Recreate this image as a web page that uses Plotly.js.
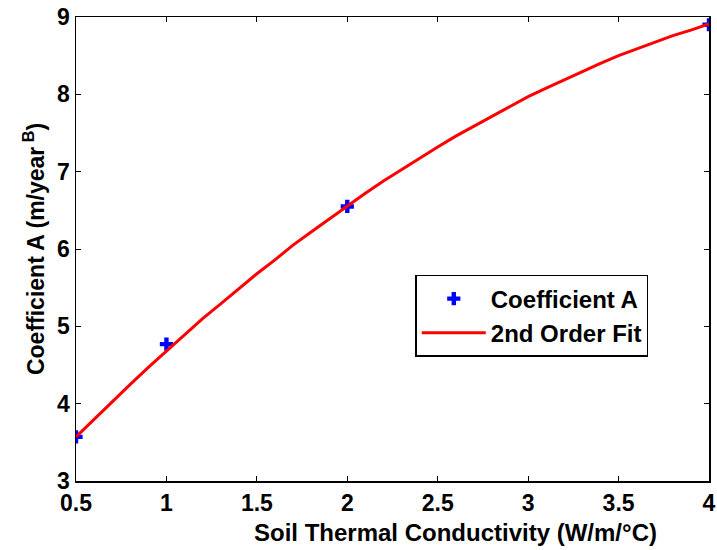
<!DOCTYPE html>
<html><head><meta charset="utf-8">
<script src="https://cdn.plot.ly/plotly-3.0.1.min.js"></script>
<style>body{margin:0;background:#fff}#c{width:717px;height:550px}</style>
</head><body><div id="c"></div>
<script>
const conductivity = [0.5, 1, 2, 4];
const coefficientA = [3.57, 4.77, 6.55, 8.90];
const fitX = [0.5,0.6,0.7,0.8,0.9,1.0,1.1,1.2,1.3,1.4,1.5,1.6,1.7,1.8,1.9,2.0,2.1,2.2,2.3,2.4,2.5,2.6,2.7,2.8,2.9,3.0,3.1,3.2,3.3,3.4,3.5,3.6,3.7,3.8,3.9,4.0];
const fitY = [3.57,3.80,4.03,4.25,4.47,4.68,4.89,5.10,5.29,5.49,5.68,5.86,6.05,6.22,6.39,6.56,6.72,6.88,7.03,7.18,7.32,7.46,7.59,7.72,7.85,7.97,8.08,8.19,8.30,8.40,8.50,8.59,8.67,8.76,8.83,8.91];
const xTickVals = [0.5,1,1.5,2,2.5,3,3.5,4];
const xTickText = ["0.5","1","1.5","2","2.5","3","3.5","4"];
const yTickVals = [3,4,5,6,7,8,9];
const xTitle = "Soil Thermal Conductivity (W/m/°C)";
const yTitle = "Coefficient A (m/year<sup> B</sup>)";

const font = {family: "Liberation Sans, Arial, sans-serif", color: "#000", weight: "bold"};
const f = s => Object.assign({}, font, {size: s});
const traces = [
  {x: conductivity, y: coefficientA, mode: "markers", name: "Coefficient A",
   marker: {symbol: "cross", size: 11, color: "#0000ff"}},
  {x: fitX, y: fitY, mode: "lines", name: "2nd Order Fit",
   line: {color: "#ff0000", width: 3}}
];
const layout = {
  width: 717, height: 550,
  margin: {l: 76, r: 8, t: 17, b: 69},
  paper_bgcolor: "#fff", plot_bgcolor: "#fff",
  showlegend: true,
  legend: {x: 0.536, y: 0.444, xanchor: "left", yanchor: "top",
    bordercolor: "#000", borderwidth: 1.5, bgcolor: "#fff",
    font: f(24), traceorder: "normal", itemwidth: 64, tracegroupgap: 0},
  xaxis: {range: [0.5, 4], tickvals: xTickVals, ticktext: xTickText,
    ticks: "inside", ticklen: 5, tickcolor: "#000", mirror: "ticks",
    showline: true, linecolor: "#000", linewidth: 1.5, showgrid: false, zeroline: false,
    tickfont: f(23), ticklabelstandoff: 1},
  yaxis: {range: [3, 9], tickvals: yTickVals,
    ticks: "inside", ticklen: 5, tickcolor: "#000", mirror: "ticks",
    showline: true, linecolor: "#000", linewidth: 1.5, showgrid: false, zeroline: false,
    tickfont: f(23),
    title: {text: yTitle, standoff: 6, font: f(23)}},
  annotations: [{text: xTitle, xref: "paper", yref: "paper", x: 0.6, y: -0.077,
    xanchor: "center", yanchor: "top", showarrow: false, font: f(24)}]
};
Plotly.newPlot("c", traces, layout, {displayModeBar: false, staticPlot: true});
</script></body></html>
